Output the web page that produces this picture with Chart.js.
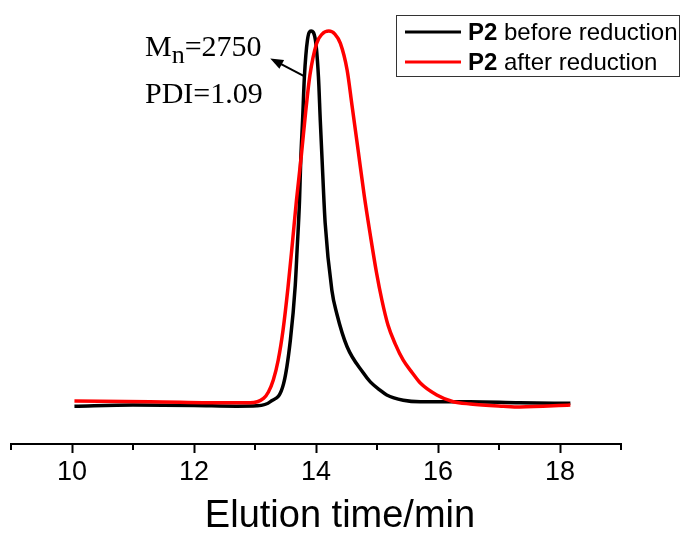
<!DOCTYPE html>
<html>
<head>
<meta charset="utf-8">
<script src="https://cdn.jsdelivr.net/npm/chart.js@4.4.1/dist/chart.umd.min.js"></script>
<style>
  body { margin: 0; background: #fff; }
  canvas { display: block; }
</style>
</head>
<body>
<canvas id="gpc" width="681" height="535"></canvas>
<script>
// elution time (min) and normalised detector signal
const timeBefore = [10.04, 11.0, 12.0, 12.7, 13.03, 13.25, 13.47, 13.58, 13.66, 13.69, 13.73, 13.75, 13.78, 13.81, 13.86, 13.92,
  13.99, 14.04, 14.07, 14.10, 14.15, 14.26, 14.34, 14.51, 14.78, 14.89, 15.05, 15.16, 15.43, 15.71, 16.53, 17.34, 18.17];
const signalBefore = [-0.003, 0.0, -0.001, -0.003, -0.002, 0.009, 0.058, 0.174, 0.32, 0.414, 0.548, 0.655, 0.762, 0.878, 0.976, 1.0,
  0.976, 0.878, 0.762, 0.655, 0.487, 0.307, 0.245, 0.156, 0.085, 0.062, 0.040, 0.027, 0.013, 0.009, 0.009, 0.006, 0.005];

const timeAfter = [10.04, 11.28, 12.59, 12.92, 13.14, 13.22, 13.30, 13.38, 13.46, 13.54, 13.61, 13.68, 13.76, 13.83, 13.90, 14.01,
  14.10, 14.21, 14.31, 14.40, 14.51, 14.59, 14.69, 14.79, 14.89, 14.99, 15.08, 15.18, 15.30, 15.43, 15.58, 15.71, 15.98, 16.25,
  16.53, 17.07, 17.34, 18.17];
const signalAfter = [0.011, 0.009, 0.006, 0.006, 0.018, 0.035, 0.067, 0.120, 0.201, 0.313, 0.428, 0.548, 0.668, 0.783, 0.882, 0.967,
  0.992, 1.0, 0.992, 0.967, 0.896, 0.802, 0.682, 0.561, 0.455, 0.356, 0.281, 0.214, 0.163, 0.120, 0.086, 0.059, 0.027, 0.009,
  0.003, -0.003, -0.005, 0.0];

const xTicks = [10, 12, 14, 16, 18];
const xMinor = [9, 11, 13, 15, 17, 19];

const SANS = "'Liberation Sans', Arial, sans-serif";
const SERIF = "'Liberation Serif', 'Times New Roman', serif";

function toPoints(xs, ys) {
    return xs.map((x, i) => ({ x: x, y: ys[i] }));
}

// minor ticks, axis title, legend box and the Mn / PDI note
const extras = {
    id: 'extras',
    afterDraw(chart) {
        const ctx = chart.ctx;
        const xs = chart.scales.x;
        const ys = chart.scales.y;
        const axisY = xs.top + 1;

        ctx.save();
        ctx.strokeStyle = '#000';
        ctx.lineWidth = 2;
        xMinor.forEach(v => {
            const px = Math.round(xs.getPixelForValue(v));
            ctx.beginPath();
            ctx.moveTo(px, axisY);
            ctx.lineTo(px, axisY + 5);
            ctx.stroke();
        });

        // axis title, sits a bit right of the axis centre in the original
        ctx.fillStyle = '#000';
        ctx.font = '38px ' + SANS;
        ctx.textAlign = 'center';
        ctx.textBaseline = 'alphabetic';
        ctx.fillText('Elution time/min', 340, 527);
        ctx.textAlign = 'left';

        // legend
        ctx.lineWidth = 1;
        ctx.strokeStyle = '#333';
        ctx.strokeRect(396.5, 15.5, 283, 61);
        const rows = [
            { color: '#000', text: ' before reduction', y: 32, base: 40 },
            { color: '#ff0000', text: ' after reduction', y: 62, base: 70 }
        ];
        rows.forEach(r => {
            ctx.strokeStyle = r.color;
            ctx.lineWidth = 3;
            ctx.beginPath();
            ctx.moveTo(405, r.y);
            ctx.lineTo(461, r.y);
            ctx.stroke();
            ctx.fillStyle = '#000';
            ctx.font = 'bold 24px ' + SANS;
            ctx.fillText('P2', 468, r.base);
            const w = ctx.measureText('P2').width;
            ctx.font = '24px ' + SANS;
            ctx.fillText(r.text, 468 + w, r.base);
        });

        // annotation
        ctx.fillStyle = '#000';
        ctx.font = '30px ' + SERIF;
        ctx.fillText('M', 145, 56);
        let wx = 145 + ctx.measureText('M').width;
        ctx.font = '26px ' + SERIF;
        ctx.fillText('n', wx, 63);
        wx += ctx.measureText('n').width;
        ctx.font = '30px ' + SERIF;
        ctx.fillText('=2750', wx, 56);
        ctx.fillText('PDI=1.09', 145, 103);

        // arrow pointing from the black peak to the label
        const x0 = xs.getPixelForValue(13.82), y0 = ys.getPixelForValue(0.878);
        const x1 = xs.getPixelForValue(13.25), y1 = ys.getPixelForValue(0.927);
        const ang = Math.atan2(y1 - y0, x1 - x0);
        ctx.strokeStyle = '#000';
        ctx.lineWidth = 2;
        ctx.beginPath();
        ctx.moveTo(x0, y0);
        ctx.lineTo(x1 - 8 * Math.cos(ang), y1 - 8 * Math.sin(ang));
        ctx.stroke();
        ctx.beginPath();
        ctx.moveTo(x1, y1);
        ctx.lineTo(x1 - 13 * Math.cos(ang) + 5 * Math.sin(ang), y1 - 13 * Math.sin(ang) - 5 * Math.cos(ang));
        ctx.lineTo(x1 - 13 * Math.cos(ang) - 5 * Math.sin(ang), y1 - 13 * Math.sin(ang) + 5 * Math.cos(ang));
        ctx.closePath();
        ctx.fill();
        ctx.restore();
    }
};

const ctx = document.getElementById('gpc').getContext('2d');
const chart = new Chart(ctx, {
    type: 'line',
    data: {
        datasets: [{
            label: 'P2 before reduction',
            data: toPoints(timeBefore, signalBefore),
            borderColor: '#000',
            borderWidth: 3.5,
            pointRadius: 0,
            cubicInterpolationMode: 'monotone',
            order: 1
        }, {
            label: 'P2 after reduction',
            data: toPoints(timeAfter, signalAfter),
            borderColor: '#ff0000',
            borderWidth: 3.5,
            pointRadius: 0,
            cubicInterpolationMode: 'monotone',
            order: 0
        }]
    },
    options: {
        responsive: false,
        animation: false,
        layout: { padding: { left: 11, right: 60, top: 15, bottom: 0 } },
        plugins: {
            legend: { display: false },
            tooltip: { enabled: false }
        },
        scales: {
            x: {
                type: 'linear',
                min: 9,
                max: 19,
                afterBuildTicks: s => { s.ticks = xTicks.map(v => ({ value: v })); },
                afterFit: s => { s.height = 91; },
                ticks: {
                    font: { family: SANS, size: 27 },
                    color: '#000',
                    padding: 3,
                    maxRotation: 0,
                    autoSkip: false
                },
                grid: {
                    drawOnChartArea: false,
                    drawTicks: true,
                    tickLength: 9,
                    tickWidth: 2,
                    tickColor: '#000'
                },
                border: { display: true, color: '#000', width: 2 },
                title: { display: false }
            },
            y: { display: false, min: -0.104, max: 1.043 }
        }
    },
    plugins: [extras]
});
</script>
</body>
</html>
